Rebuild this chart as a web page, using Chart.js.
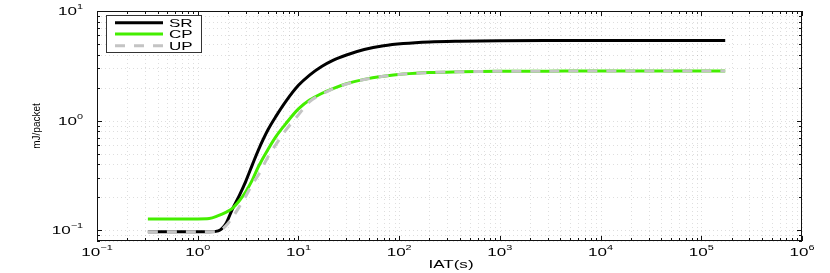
<!DOCTYPE html>
<html>
<head>
<meta charset="utf-8">
<script src="https://cdn.jsdelivr.net/npm/chart.js@4/dist/chart.umd.min.js"></script>
<style>
  html, body { margin: 0; padding: 0; background: #fff; }
  #wrap { width: 830px; height: 273px; }
</style>
</head>
<body>
<div id="wrap"><canvas id="myChart"></canvas></div>
<script>
// inter-arrival time, seconds
var iat = [0.32, 0.6, 1.0, 1.3, 1.6, 1.9, 2.2, 2.6, 3.0, 3.5, 4.0, 5.0, 6.0, 7.5, 10,
           13, 17, 22, 30, 45, 70, 110, 200, 400, 1000, 3000, 10000, 50000, 172800];
var srValues = [0.097, 0.097, 0.097, 0.097, 0.099, 0.115, 0.155, 0.21, 0.28, 0.40, 0.54, 0.83, 1.1, 1.5, 2.1,
                2.62, 3.12, 3.55, 3.97, 4.45, 4.82, 5.05, 5.22, 5.30, 5.35, 5.37, 5.38, 5.38, 5.38];
var cpValues = [0.127, 0.127, 0.127, 0.128, 0.136, 0.146, 0.158, 0.187, 0.225, 0.29, 0.38, 0.55, 0.72, 0.94, 1.28,
                1.55, 1.77, 1.96, 2.17, 2.38, 2.54, 2.66, 2.75, 2.79, 2.82, 2.83, 2.84, 2.84, 2.84];
var upValues = [0.097, 0.097, 0.097, 0.097, 0.098, 0.11, 0.13, 0.165, 0.205, 0.265, 0.32, 0.47, 0.61, 0.82, 1.13,
                1.5, 1.74, 1.95, 2.16, 2.37, 2.54, 2.66, 2.75, 2.79, 2.82, 2.83, 2.84, 2.84, 2.84];
var seriesNames = ["SR", "CP", "UP"];
var xTickExp = [-1, 0, 1, 2, 3, 4, 5, 6];
var yTickExp = [-1, 0, 1];

function pts(ys) {
  return ys.map(function (y, i) { return {x: iat[i], y: y}; });
}

var FONT = '"Liberation Sans", Arial, sans-serif';
var SX = 1.55; // the source picture is stretched sideways

function wideText(ctx, str, x, y, size, align) {
  ctx.save();
  ctx.font = size + 'px ' + FONT;
  var w = ctx.measureText(str).width * SX;
  var x0 = align === 'center' ? x - w / 2 : (align === 'right' ? x - w : x);
  ctx.translate(x0, y);
  ctx.scale(SX, 1);
  ctx.textAlign = 'left';
  ctx.textBaseline = 'alphabetic';
  ctx.fillText(str, 0, 0);
  ctx.restore();
  return w;
}

function powWidth(ctx, e) {
  ctx.font = '11px ' + FONT;
  var a = ctx.measureText('10').width * SX;
  ctx.font = '7px ' + FONT;
  var b = ctx.measureText(e < 0 ? '\u2212' + (-e) : '' + e).width * SX;
  return a + b;
}

function drawPow(ctx, e, x, y, align) {
  var w = powWidth(ctx, e);
  var x0 = align === 'center' ? x - w / 2 : x - w;
  var a = wideText(ctx, '10', x0, y, 11, 'left');
  wideText(ctx, e < 0 ? '\u2212' + (-e) : '' + e, x0 + a, y - 6, 7, 'left');
}

function logPositions(lo, hi) {
  var out = [];
  for (var d = Math.floor(Math.log10(lo)); d <= Math.ceil(Math.log10(hi)); d++) {
    for (var m = 1; m <= 9; m++) {
      var v = m * Math.pow(10, d);
      if (v >= lo * 0.999 && v <= hi * 1.001) out.push({v: v, major: m === 1});
    }
  }
  return out;
}

var axesPlugin = {
  id: 'matlabAxes',
  beforeDatasetsDraw: function (chart) {
    var ctx = chart.ctx, a = chart.chartArea;
    var xs = chart.scales.x, ys = chart.scales.y;
    ctx.save();
    ctx.strokeStyle = 'rgba(0,0,0,0.13)';
    ctx.lineWidth = 1;
    ctx.setLineDash([1, 3]);
    logPositions(xs.min, xs.max).forEach(function (t) {
      var px = Math.round(xs.getPixelForValue(t.v)) + 0.5;
      ctx.beginPath(); ctx.moveTo(px, a.top); ctx.lineTo(px, a.bottom); ctx.stroke();
    });
    logPositions(ys.min, ys.max).forEach(function (t) {
      var py = Math.round(ys.getPixelForValue(t.v)) + 0.5;
      ctx.beginPath(); ctx.moveTo(a.left, py); ctx.lineTo(a.right, py); ctx.stroke();
    });
    ctx.restore();
  },
  afterDatasetsDraw: function (chart) {
    var ctx = chart.ctx, a = chart.chartArea;
    var xs = chart.scales.x, ys = chart.scales.y;
    ctx.save();
    ctx.setLineDash([]);
    ctx.strokeStyle = '#111';
    ctx.lineWidth = 1;
    ctx.strokeRect(a.left + 0.5, a.top + 0.5, a.right - a.left - 1, a.bottom - a.top - 1);
    ctx.beginPath();
    logPositions(xs.min, xs.max).forEach(function (t) {
      var px = Math.round(xs.getPixelForValue(t.v)) + 0.5;
      var len = t.major ? 5 : 3;
      ctx.moveTo(px, a.bottom); ctx.lineTo(px, a.bottom - len);
      ctx.moveTo(px, a.top); ctx.lineTo(px, a.top + len);
    });
    logPositions(ys.min, ys.max).forEach(function (t) {
      var py = Math.round(ys.getPixelForValue(t.v)) + 0.5;
      var len = t.major ? 5 : 3;
      ctx.moveTo(a.left, py); ctx.lineTo(a.left + len, py);
      ctx.moveTo(a.right, py); ctx.lineTo(a.right - len, py);
    });
    ctx.stroke();

    ctx.fillStyle = '#000';
    xTickExp.forEach(function (e) {
      drawPow(ctx, e, xs.getPixelForValue(Math.pow(10, e)), 256, 'center');
    });
    yTickExp.forEach(function (e) {
      drawPow(ctx, e, a.left - 14, ys.getPixelForValue(Math.pow(10, e)) + 4, 'right');
    });
    wideText(ctx, 'IAT(s)', 451, 268, 11, 'center');
    ctx.save();
    ctx.translate(40, 126);
    ctx.rotate(-Math.PI / 2);
    ctx.font = '10px ' + FONT;
    ctx.textAlign = 'center';
    ctx.textBaseline = 'alphabetic';
    ctx.fillText('mJ/packet', 0, 0);
    ctx.restore();

    // legend box
    ctx.fillStyle = '#fff';
    ctx.fillRect(106, 15, 96, 38);
    ctx.strokeStyle = '#333';
    ctx.strokeRect(106.5, 15.5, 95, 37);
    var rows = [22.7, 34, 45.7];
    chart.data.datasets.forEach(function (ds, i) {
      ctx.save();
      ctx.strokeStyle = ds.borderColor;
      ctx.lineWidth = ds.borderWidth;
      ctx.setLineDash(ds.borderDash || []);
      ctx.beginPath(); ctx.moveTo(115, rows[i]); ctx.lineTo(163, rows[i]); ctx.stroke();
      ctx.restore();
      ctx.fillStyle = '#000';
      wideText(ctx, ds.label, 169, rows[i] + 4, 11, 'left');
    });
    ctx.restore();
  }
};

new Chart("myChart", {
  type: "line",
  data: {
    datasets: [{
      label: seriesNames[0],
      data: pts(srValues),
      borderColor: "#000000",
      borderWidth: 3,
      order: 3
    }, {
      label: seriesNames[1],
      data: pts(cpValues),
      borderColor: "#44ee00",
      borderWidth: 3,
      order: 2
    }, {
      label: seriesNames[2],
      data: pts(upValues),
      borderColor: "#c4c4c4",
      borderWidth: 3,
      borderDash: [10, 9],
      order: 1
    }]
  },
  options: {
    responsive: true,
    maintainAspectRatio: false,
    animation: false,
    devicePixelRatio: 1,
    layout: {padding: {left: 97, right: 28, top: 11, bottom: 32}},
    elements: {
      point: {radius: 0},
      line: {cubicInterpolationMode: "monotone"}
    },
    plugins: {legend: {display: false}, tooltip: {enabled: false}},
    scales: {
      x: {
        type: "logarithmic", min: 0.1, max: 1e6,
        grid: {display: false}, border: {display: false},
        ticks: {display: false},
        afterFit: function (s) { s.height = 0; }
      },
      y: {
        type: "logarithmic", min: 0.08, max: 10,
        grid: {display: false}, border: {display: false},
        ticks: {display: false},
        afterFit: function (s) { s.width = 0; }
      }
    }
  },
  plugins: [axesPlugin]
});
</script>
</body>
</html>
